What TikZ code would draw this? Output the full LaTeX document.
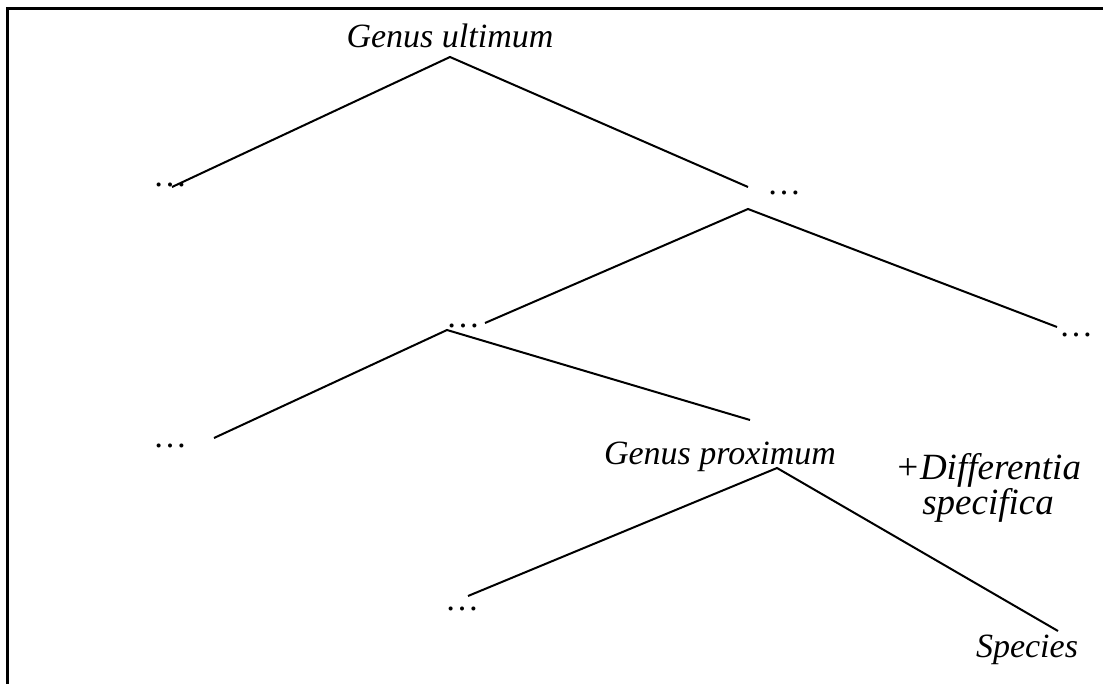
\documentclass[tikz,border=0pt]{standalone}
\usepackage{fontspec}
\setmainfont{Liberation Serif}
\begin{document}
\begin{tikzpicture}[x=0.5pt, y=-0.5pt, line width=1pt,
  lbl/.style={font=\fontsize{17}{16.5}\selectfont\itshape, inner sep=0pt, anchor=base},
  dots/.style={font=\fontsize{17}{20}\selectfont, inner sep=0pt, anchor=base west}]
  \useasboundingbox (0,0) rectangle (1103,684);
  % frame
  \draw[line width=1.5pt] (7,684) -- (7,8.5) -- (1103,8.5);
  % labels
  \node[lbl] (ultimum) at (450,48) {Genus ultimum};
  \node[lbl] (proximum) at (720,464) {Genus proximum};
  \node[lbl] (species) at (1027,657) {Species};
  \node[lbl, font=\fontsize{18.5}{16.5}\selectfont\itshape, align=center, anchor=north] (differentia) at (988,452) {+Differentia\\specifica};
  % dots
  \node[dots] (d1l) at (152,187) {\ldots};
  \node[dots] (d1r) at (766,195) {\ldots};
  \node[dots] (d2l) at (445,328) {\ldots};
  \node[dots] (d2r) at (1058,336) {\ldots};
  \node[dots] (d3l) at (152,447) {\ldots};
  \node[dots] (d4l) at (444,610) {\ldots};
  % branch points
  \coordinate (v1) at (450,57);
  \coordinate (v2) at (748,209);
  \coordinate (v3) at (447,330);
  \coordinate (v4) at (777,468);
  % branch ends
  \coordinate (e1l) at (172,187);
  \coordinate (e1r) at (748,187);
  \coordinate (e2l) at (485,323);
  \coordinate (e2r) at (1057,327);
  \coordinate (e3l) at (214,438);
  \coordinate (e3r) at (750,420);
  \coordinate (e4l) at (468,596);
  \coordinate (e4r) at (1058,631);
  % branches
  \draw (e1l) -- (v1) -- (e1r);
  \draw (e2l) -- (v2) -- (e2r);
  \draw (e3l) -- (v3) -- (e3r);
  \draw (e4l) -- (v4) -- (e4r);
\end{tikzpicture}
\end{document}
